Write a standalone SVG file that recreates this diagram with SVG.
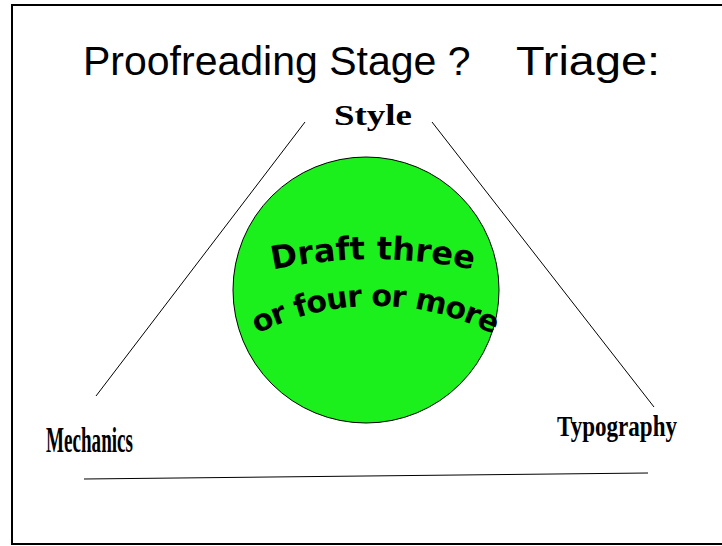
<svg xmlns="http://www.w3.org/2000/svg" width="722" height="546" viewBox="0 0 722 546">
<style>
.title{font-family:"Liberation Sans",Arial,sans-serif;font-size:41px;fill:#000}
.lbl{font-family:"Liberation Serif","Times New Roman",serif;font-weight:bold;fill:#000}
.art{font-family:"DejaVu Sans",Arial,sans-serif;font-weight:bold;fill:#000}
.ln{stroke:#000;stroke-width:1;fill:none}
</style>
<defs>
<path id="arc1" d="M 240 278 A 480 480 0 0 1 506 278"/>
<path id="arc2" d="M 230 350 A 260 260 0 0 1 520 350"/>
</defs>
<rect x="12" y="5" width="720" height="539" fill="#fff" stroke="#000" stroke-width="2"/>
<text class="title" x="83" y="75">Proofreading Stage ?</text>
<text class="title" x="516" y="75" textLength="144" lengthAdjust="spacingAndGlyphs">Triage:</text>
<g id="connectors">
<line class="ln" x1="305" y1="122" x2="96" y2="396"/>
<line class="ln" x1="432" y1="122" x2="654" y2="407"/>
<line class="ln" x1="84" y1="479" x2="648" y2="473"/>
</g>
<g id="center">
<circle cx="366" cy="290" r="133" fill="#1cf01c" stroke="#000" stroke-width="1"/>
<text class="art" font-size="32"><textPath href="#arc1" startOffset="50%" text-anchor="middle">Draft three</textPath></text>
<text class="art" font-size="30" letter-spacing="-1"><textPath href="#arc2" startOffset="50%" text-anchor="middle">or four or more</textPath></text>
</g>
<g id="style"><text class="lbl" x="334" y="125" font-size="30" textLength="78" lengthAdjust="spacingAndGlyphs">Style</text></g>
<g id="mechanics"><text class="lbl" x="46" y="452" font-size="36" textLength="87" lengthAdjust="spacingAndGlyphs">Mechanics</text></g>
<g id="typography"><text class="lbl" x="557" y="436" font-size="30" textLength="120" lengthAdjust="spacingAndGlyphs">Typography</text></g>
</svg>
